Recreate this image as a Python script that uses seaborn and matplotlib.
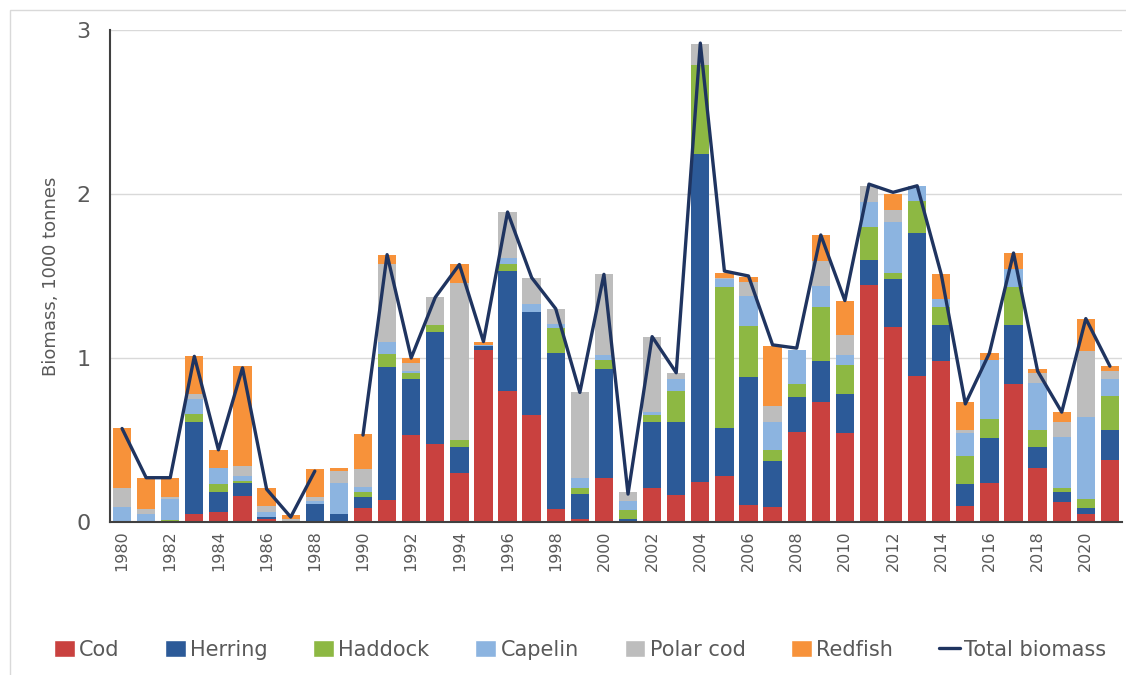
import numpy as np
import pandas as pd
import matplotlib
matplotlib.use("Agg")
import matplotlib.pyplot as plt
from matplotlib.patches import Patch, Rectangle
from matplotlib.lines import Line2D
import seaborn as sns

years = list(range(1980, 2022))

cod = [0.00, 0.00, 0.00, 0.05, 0.06, 0.16, 0.02, 0.00, 0.00, 0.00,
       0.085, 0.135, 0.53, 0.475, 0.30, 1.05, 0.80, 0.65, 0.08, 0.02,
       0.27, 0.00, 0.21, 0.165, 0.245, 0.28, 0.105, 0.09, 0.55, 0.73,
       0.54, 1.445, 1.19, 0.89, 0.98, 0.10, 0.24, 0.84, 0.33, 0.12,
       0.05, 0.38]
herring = [0.00, 0.00, 0.00, 0.56, 0.12, 0.08, 0.01, 0.00, 0.11, 0.05,
           0.07, 0.81, 0.34, 0.685, 0.16, 0.02, 0.73, 0.63, 0.95, 0.15,
           0.66, 0.02, 0.40, 0.445, 2.00, 0.29, 0.78, 0.28, 0.21, 0.25,
           0.24, 0.155, 0.29, 0.87, 0.22, 0.13, 0.27, 0.36, 0.13, 0.06,
           0.035, 0.18]
haddock = [0.00, 0.00, 0.01, 0.05, 0.05, 0.01, 0.00, 0.00, 0.00, 0.00,
           0.03, 0.08, 0.04, 0.04, 0.04, 0.00, 0.04, 0.00, 0.15, 0.04,
           0.06, 0.05, 0.04, 0.19, 0.54, 0.86, 0.31, 0.07, 0.08, 0.33,
           0.18, 0.20, 0.04, 0.20, 0.11, 0.17, 0.12, 0.23, 0.10, 0.03,
           0.055, 0.21]
capelin = [0.09, 0.05, 0.13, 0.09, 0.10, 0.03, 0.03, 0.00, 0.02, 0.19,
           0.03, 0.07, 0.01, 0.00, 0.00, 0.01, 0.04, 0.05, 0.03, 0.06,
           0.03, 0.06, 0.02, 0.07, 0.00, 0.05, 0.18, 0.17, 0.21, 0.13,
           0.06, 0.15, 0.31, 0.09, 0.05, 0.14, 0.36, 0.11, 0.29, 0.31,
           0.50, 0.10]
polar_cod = [0.12, 0.03, 0.01, 0.03, 0.00, 0.06, 0.04, 0.02, 0.02, 0.07,
             0.11, 0.48, 0.05, 0.17, 0.96, 0.00, 0.28, 0.16, 0.09, 0.52,
             0.49, 0.05, 0.46, 0.04, 0.13, 0.01, 0.09, 0.10, 0.00, 0.15,
             0.12, 0.10, 0.07, 0.00, 0.00, 0.02, 0.00, 0.00, 0.06, 0.09,
             0.40, 0.05]
redfish = [0.36, 0.19, 0.12, 0.23, 0.11, 0.61, 0.11, 0.02, 0.17, 0.02,
           0.21, 0.05, 0.03, 0.00, 0.11, 0.02, 0.00, 0.00, 0.00, 0.00,
           0.00, 0.00, 0.00, 0.00, 0.00, 0.03, 0.03, 0.36, 0.00, 0.16,
           0.21, 0.00, 0.10, 0.00, 0.15, 0.17, 0.04, 0.10, 0.02, 0.06,
           0.20, 0.03]
# total line has no value for 1989 (gap in the original)
total = [0.57, 0.27, 0.27, 1.01, 0.44, 0.94, 0.20, 0.03, 0.31, np.nan,
         0.53, 1.63, 1.00, 1.37, 1.57, 1.10, 1.89, 1.49, 1.30, 0.79,
         1.51, 0.17, 1.13, 0.91, 2.92, 1.53, 1.50, 1.08, 1.06, 1.75,
         1.35, 2.06, 2.01, 2.05, 1.51, 0.72, 1.03, 1.64, 0.92, 0.67,
         1.24, 0.95]

species = ["Cod", "Herring", "Haddock", "Capelin", "Polar cod", "Redfish"]
colors = {"Cod": "#C9413F", "Herring": "#2C5A98", "Haddock": "#8DB843",
          "Capelin": "#8CB4E0", "Polar cod": "#BDBDBD", "Redfish": "#F7923A"}
line_color = "#1F3460"
text_color = "#595959"

series = [cod, herring, haddock, capelin, polar_cod, redfish]
long = pd.DataFrame([
    {"year": y, "species": s, "biomass": v}
    for s, vals in zip(species, series) for y, v in zip(years, vals)
])
tot = pd.DataFrame({"year": years, "total": total}).dropna()
tot["seg"] = (tot["year"] > 1989).astype(int)

sns.set_theme(style="white")
plt.rcParams["font.family"] = ["Liberation Sans Narrow", "DejaVu Sans"]

fig = plt.figure(figsize=(11.26, 6.75), dpi=100)
ax = fig.add_axes([0.0977, 0.2267, 0.8987, 0.7289])

# seaborn stacks the last hue level at the bottom, so reverse the order
sns.histplot(data=long, x="year", weights="biomass", hue="species",
             hue_order=species[::-1], multiple="stack", discrete=True,
             shrink=0.76, palette=colors, alpha=1, linewidth=0,
             legend=False, ax=ax)
sns.lineplot(data=tot, x="year", y="total", units="seg", estimator=None,
             color=line_color, linewidth=2.4, ax=ax)

ax.set_xlim(1979.5, 2021.5)
ax.set_ylim(0, 3)
ax.set_yticks([0, 1, 2, 3])
ax.set_xticks(range(1980, 2021, 2))
ax.set_xticklabels([str(y) for y in range(1980, 2021, 2)], rotation=90)
ax.tick_params(axis="y", labelsize=16, colors=text_color, length=0, pad=14)
ax.tick_params(axis="x", labelsize=11.5, colors=text_color, length=0, pad=6)
ax.set_xlabel("")
ax.set_ylabel("Biomass, 1000 tonnes", fontsize=13, color=text_color, labelpad=12)
ax.yaxis.grid(True, color="#D9D9D9", linewidth=1)
ax.set_axisbelow(True)
for side in ["top", "right"]:
    ax.spines[side].set_visible(False)
ax.spines["left"].set_color("#404040")
ax.spines["bottom"].set_color("#404040")
ax.spines["left"].set_linewidth(1.5)
ax.spines["bottom"].set_linewidth(1.5)

handles = [Patch(facecolor=colors[s], label=s) for s in species]
handles.append(Line2D([0], [0], color=line_color, linewidth=2.4, label="Total biomass"))
fig.legend(handles=handles, loc="center", bbox_to_anchor=(0.515, 0.037),
           ncol=7, frameon=False, fontsize=15, handlelength=1.0,
           handleheight=0.9, handletextpad=0.2, columnspacing=2.2,
           labelcolor=text_color)

# light chart-area border
fig.add_artist(Rectangle((0.009, -0.01), 1.1, 0.995, transform=fig.transFigure,
                         fill=False, edgecolor="#D9D9D9", linewidth=1))

fig.savefig("out.png", dpi=100)
plt.close(fig)
